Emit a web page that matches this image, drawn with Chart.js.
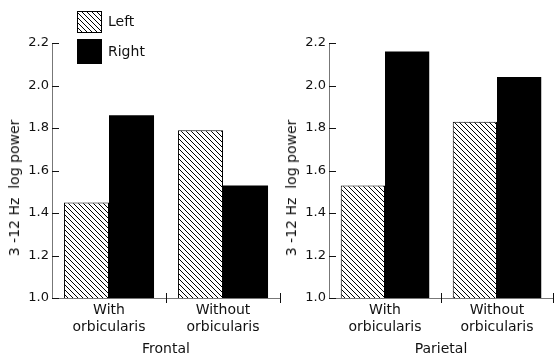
<!DOCTYPE html>
<html>
<head>
<meta charset="utf-8">
<script src="https://cdn.jsdelivr.net/npm/chart.js@4"></script>
<style>
  html, body { margin: 0; padding: 0; background: #fff; }
  #wrap { position: relative; width: 554px; height: 358px; overflow: hidden; }
  canvas { position: absolute; top: 0; }
  #c-frontal { left: 0; }
  #c-parietal { left: 277px; }
  .key { position: absolute; left: 77px; height: 24px; font: 14px 'DejaVu Sans', sans-serif; color: #111; }
  .key .sw { position: absolute; left: 0; top: 0; width: 23px; border: 1px solid #000; }
  .key .lbl { position: absolute; left: 31px; white-space: nowrap; }
  .hatch { background: repeating-linear-gradient(45deg, #fff 0 2.4px, #000 2.4px 3.5px); }
  .ytitle { position: absolute; top: 188px; font: 14px 'DejaVu Sans', sans-serif; color: #111;
            white-space: pre; transform: translate(-50%, -50%) rotate(-90deg); }
</style>
</head>
<body>
<div id="wrap">
  <canvas id="c-frontal" width="282" height="358"></canvas>
  <canvas id="c-parietal" width="277" height="358"></canvas>
  <div id="legend"></div>
  <div class="ytitle" id="yt-frontal" style="left:14px"></div>
  <div class="ytitle" id="yt-parietal" style="left:291px"></div>
</div>
<script>
var categories = [['With', 'orbicularis'], ['Without', 'orbicularis']]
var seriesNames = ['Left', 'Right']
var frontalLeft = [1.45, 1.79]
var frontalRight = [1.86, 1.53]
var parietalLeft = [1.53, 1.83]
var parietalRight = [2.16, 2.04]
var yTicks = [1.0, 1.2, 1.4, 1.6, 1.8, 2.0, 2.2]
var yTitle = '3 -12 Hz  log power'

Chart.defaults.font.family = "'DejaVu Sans', sans-serif"
Chart.defaults.color = '#111'

// diagonal hatch for the "Left" bars
function hatch() {
  var c = document.createElement('canvas')
  c.width = 5; c.height = 5
  var g = c.getContext('2d')
  g.fillStyle = '#fff'
  g.fillRect(0, 0, 5, 5)
  g.strokeStyle = '#000'
  g.lineWidth = 1
  g.beginPath()
  g.moveTo(-1, -1); g.lineTo(6, 6)
  g.moveTo(4, -1); g.lineTo(6, 1)
  g.moveTo(-1, 4); g.lineTo(1, 6)
  g.stroke()
  return g.createPattern(c, 'repeat')
}

// ticks pointing into the plot, like the original figure
var innerTicks = {
  id: 'innerTicks',
  afterDraw: function (chart) {
    var ctx = chart.ctx, y = chart.scales.y, x = chart.scales.x, area = chart.chartArea
    var step = x.getPixelForValue(1) - x.getPixelForValue(0)
    ctx.save()
    ctx.strokeStyle = '#111'
    ctx.lineWidth = 1
    ctx.beginPath()
    y.ticks.forEach(function (t) {
      var py = Math.round(y.getPixelForValue(t.value)) + 0.5
      ctx.moveTo(area.left, py)
      ctx.lineTo(area.left + 7, py)
    })
    for (var i = 0; i < categories.length; i++) {
      var px = Math.round(x.getPixelForValue(i) + step / 2) + 0.5
      ctx.moveTo(px, area.bottom - 5)
      ctx.lineTo(px, area.bottom + 5)
    }
    ctx.stroke()
    ctx.restore()
  }
}

function panel(id, title, left, right, padRight) {
  var ctx = document.getElementById(id).getContext('2d')
  return new Chart(ctx, {
    type: 'bar',
    data: {
      labels: categories,
      datasets: [
        {
          label: seriesNames[0],
          data: left,
          backgroundColor: hatch(),
          borderColor: '#000',
          borderWidth: 1,
          borderSkipped: false
        },
        {
          label: seriesNames[1],
          data: right,
          backgroundColor: '#000',
          borderWidth: 0
        }
      ]
    },
    plugins: [innerTicks],
    options: {
      responsive: false,
      animation: false,
      datasets: {
        bar: { categoryPercentage: 0.79, barPercentage: 1.0 }
      },
      layout: {
        padding: { top: 43, right: padRight, bottom: 0, left: 0 }
      },
      scales: {
        x: {
          afterFit: function (s) { s.height = 60 },
          grid: { display: false, drawTicks: false },
          border: { color: '#777', width: 1 },
          ticks: { font: { size: 14 }, padding: 4, autoSkip: false, maxRotation: 0 },
          title: { display: true, text: title, font: { size: 14 }, padding: 0 }
        },
        y: {
          min: 1.0,
          max: 2.2,
          afterFit: function (s) { s.width = 52 },
          afterBuildTicks: function (s) {
            s.ticks = yTicks.map(function (v) { return { value: v } })
          },
          grid: { display: false, drawTicks: false },
          border: { color: '#777', width: 1 },
          ticks: {
            font: { size: 13 },
            padding: 3,
            callback: function (v) { return v.toFixed(1) }
          },
          title: { display: false }
        }
      },
      plugins: {
        legend: { display: false },
        tooltip: { enabled: false }
      }
    }
  })
}

window.addEventListener('DOMContentLoaded', function () {
  panel('c-frontal', 'Frontal', frontalLeft, frontalRight, 2)
  panel('c-parietal', 'Parietal', parietalLeft, parietalRight, 1)

  document.getElementById('yt-frontal').textContent = yTitle
  document.getElementById('yt-parietal').textContent = yTitle

  var legend = document.getElementById('legend')
  var tops = [11, 39]
  seriesNames.forEach(function (name, i) {
    var row = document.createElement('div')
    row.className = 'key'
    row.style.top = tops[i] + 'px'
    var sw = document.createElement('span')
    sw.className = 'sw' + (i === 0 ? ' hatch' : '')
    sw.style.height = (i === 0 ? 20 : 23) + 'px'
    if (i === 1) sw.style.background = '#000'
    var lbl = document.createElement('span')
    lbl.className = 'lbl'
    lbl.style.top = (i === 0 ? 2 : 4) + 'px'
    lbl.textContent = name
    row.appendChild(sw)
    row.appendChild(lbl)
    legend.appendChild(row)
  })
})
</script>
</body>
</html>
